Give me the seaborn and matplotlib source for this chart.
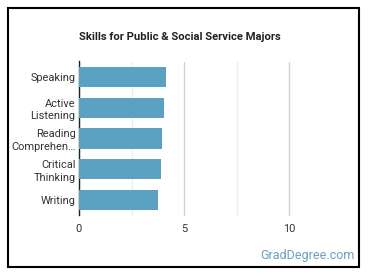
import matplotlib
matplotlib.use("Agg")
import matplotlib.pyplot as plt
import seaborn as sns
import pandas as pd
from matplotlib.patches import Rectangle

# Chart data
skills = ["Speaking", "Active\nListening", "Reading\nComprehen\u2026", "Critical\nThinking", "Writing"]
scores = [4.14, 4.06, 3.97, 3.92, 3.76]
x_ticks = [0, 5, 10]

df = pd.DataFrame({"skill": skills, "score": scores})

sns.set_style("white")
plt.rcParams["font.family"] = ["Roboto", "DejaVu Sans"]

fig = plt.figure(figsize=(3.70, 2.78), dpi=100)
ax = fig.add_axes([79 / 370, 1 - 215.5 / 278, 262.5 / 370, 154 / 278])

sns.barplot(data=df, x="score", y="skill", color="#5ba2c2", width=0.65,
            saturation=1, linewidth=0, ax=ax, zorder=3)

ax.set_xlim(0, 12.5)
ax.set_xticks(x_ticks)
ax.set_xticks([2.5, 7.5], minor=True)
ax.grid(axis="x", which="major", color="#d4d4d4", linewidth=1, zorder=0)
ax.grid(axis="x", which="minor", color="#ededed", linewidth=1, zorder=0)
ax.set_axisbelow(True)
ax.tick_params(axis="both", which="both", length=0, labelsize=7.9, colors="#333333")
ax.tick_params(axis="x", pad=6)
ax.tick_params(axis="y", pad=2.5)
for lab in ax.get_yticklabels():
    lab.set_linespacing(1.3)
ax.set_xlabel("")
ax.set_ylabel("")
for side in ["top", "right", "bottom"]:
    ax.spines[side].set_visible(False)
ax.spines["left"].set_color("#222222")
ax.spines["left"].set_linewidth(1)

fig.text(180 / 370, 1 - 37 / 278, "Skills for Public & Social Service Majors",
         ha="center", va="center", fontsize=8.1, fontweight="bold", color="#222222")
fig.text(355 / 370, 1 - 255 / 278, "GradDegree.com", ha="right", va="center",
         fontsize=9, color="#6aa0c2")

# outer frame
fig.patches.append(Rectangle((7.5 / 370, 1 - 267 / 278), 351.5 / 370, 259 / 278,
                             transform=fig.transFigure, fill=False,
                             edgecolor="black", linewidth=1.5))

fig.savefig("out.png", dpi=100)
